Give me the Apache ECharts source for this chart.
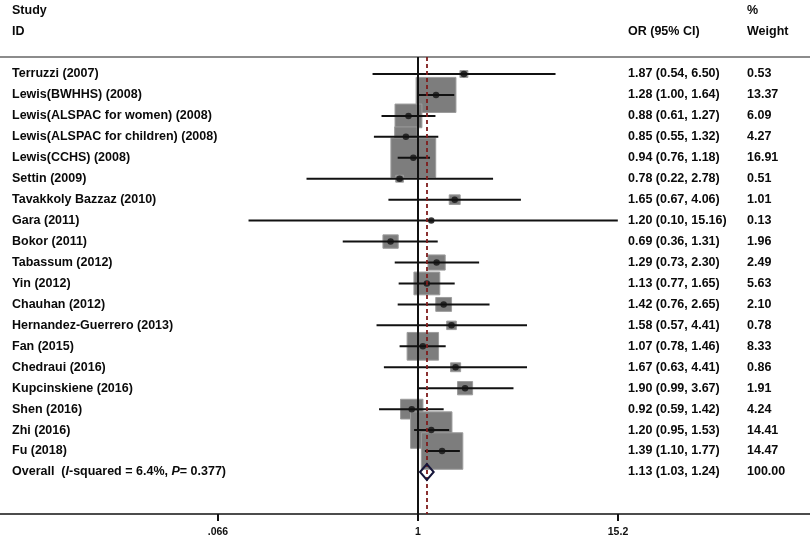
<!DOCTYPE html>
<html><head><meta charset="utf-8">
<script src="https://cdn.jsdelivr.net/npm/echarts@6/dist/echarts.min.js"></script>
<style>html,body{margin:0;padding:0;background:#fff}#c{width:810px;height:540px}</style>
</head><body><div id="c"></div>
<script>
const studies = [
  'Terruzzi (2007)', 'Lewis(BWHHS) (2008)', 'Lewis(ALSPAC for women) (2008)',
  'Lewis(ALSPAC for children) (2008)', 'Lewis(CCHS) (2008)', 'Settin (2009)',
  'Tavakkoly Bazzaz (2010)', 'Gara (2011)', 'Bokor (2011)', 'Tabassum (2012)',
  'Yin (2012)', 'Chauhan (2012)', 'Hernandez-Guerrero (2013)', 'Fan (2015)',
  'Chedraui (2016)', 'Kupcinskiene (2016)', 'Shen (2016)', 'Zhi (2016)', 'Fu (2018)'
];
const orValues = [1.87, 1.28, 0.88, 0.85, 0.94, 0.78, 1.65, 1.20, 0.69, 1.29, 1.13, 1.42, 1.58, 1.07, 1.67, 1.90, 0.92, 1.20, 1.39];
const ciLower  = [0.54, 1.00, 0.61, 0.55, 0.76, 0.22, 0.67, 0.10, 0.36, 0.73, 0.77, 0.76, 0.57, 0.78, 0.63, 0.99, 0.59, 0.95, 1.10];
const ciUpper  = [6.50, 1.64, 1.27, 1.32, 1.18, 2.78, 4.06, 15.16, 1.31, 2.30, 1.65, 2.65, 4.41, 1.46, 4.41, 3.67, 1.42, 1.53, 1.77];
const weights  = [0.53, 13.37, 6.09, 4.27, 16.91, 0.51, 1.01, 0.13, 1.96, 2.49, 5.63, 2.10, 0.78, 8.33, 0.86, 1.91, 4.24, 14.41, 14.47];
const overallOR = 1.13, overallLower = 1.03, overallUpper = 1.24, overallWeight = 100.00;
const overallLabel = ['Overall  (', 'I', '-squared = 6.4%, ', 'P', '= 0.377)'];
const tickValues = [0.066, 1, 15.2];
const tickLabels = ['.066', '1', '15.2'];
const headers = {study: 'Study', id: 'ID', or: 'OR (95% CI)', pct: '%', weight: 'Weight'};

const ln = Math.log;
const n = studies.length;
const rowIdx = studies.map((_, i) => i);
const allRows = rowIdx.concat([n]);
const orText = orValues.map((v, i) => `${v.toFixed(2)} (${ciLower[i].toFixed(2)}, ${ciUpper[i].toFixed(2)})`)
  .concat([`${overallOR.toFixed(2)} (${overallLower.toFixed(2)}, ${overallUpper.toFixed(2)})`]);
const wText = weights.map(w => w.toFixed(2)).concat([overallWeight.toFixed(2)]);

const FONT = '"Liberation Sans", Arial, sans-serif';
const FS = 12.5;
const txt = {fontFamily: FONT, fontWeight: 'bold', fontSize: FS, color: '#0a0a0a'};

const chart = echarts.init(document.getElementById('c'), null, {renderer: 'canvas'});

const yBase = {type: 'value', inverse: true, min: -0.8116, max: 21.006,
  axisLine: {show: false, onZero: false}, axisTick: {show: false}, splitLine: {show: false}};

chart.setOption({
  animation: false,
  backgroundColor: '#fff',
  grid: {left: 0, right: 0, top: 57, bottom: 26},
  xAxis: [{
    type: 'value', min: -5.682, max: 5.332, position: 'bottom',
    axisLine: {show: true, onZero: false, lineStyle: {color: '#111', width: 1.5}},
    axisTick: {show: true, length: 7, lineStyle: {color: '#111', width: 2}, customValues: tickValues.map(ln)},
    axisLabel: {show: true, margin: 13, customValues: tickValues.map(ln),
      formatter: v => { let k = 0, d = 1e9; tickValues.forEach((t, j) => { const e = Math.abs(ln(t) - v); if (e < d) { d = e; k = j; } }); return tickLabels[k]; },
      fontFamily: FONT, fontWeight: 'bold', fontSize: 10.5, color: '#111'},
    splitLine: {show: false}
  }, {
    type: 'value', min: -5.682, max: 5.332, position: 'top',
    axisLine: {show: true, onZero: false, lineStyle: {color: '#8c8c8c', width: 2}},
    axisTick: {show: false}, axisLabel: {show: false}, splitLine: {show: false}
  }],
  yAxis: [
    Object.assign({}, yBase, {position: 'left', axisLabel: Object.assign({
      show: true, inside: true, align: 'left', margin: 12, customValues: allRows,
      formatter: v => { const i = Math.round(v); if (i === n) { return `{b|${overallLabel[0]}}{i|${overallLabel[1]}}{b|${overallLabel[2]}}{i|${overallLabel[3]}}{b|${overallLabel[4]}}`; } return studies[i]; },
      rich: {
        b: {fontFamily: FONT, fontWeight: 'bold', fontSize: FS, color: '#0a0a0a'},
        i: {fontFamily: FONT, fontWeight: 'bold', fontStyle: 'italic', fontSize: FS, color: '#0a0a0a'}
      }
    }, txt)}),
    Object.assign({}, yBase, {position: 'right', axisLabel: Object.assign({
      show: true, inside: true, align: 'left', margin: 182, customValues: allRows,
      formatter: v => orText[Math.round(v)]
    }, txt)}),
    Object.assign({}, yBase, {position: 'right', axisLabel: Object.assign({
      show: true, inside: true, align: 'left', margin: 63, customValues: allRows,
      formatter: v => wText[Math.round(v)]
    }, txt)})
  ],
  graphic: [
    {type: 'text', left: 12, top: 4, style: {text: headers.study, fill: '#0a0a0a', font: `bold ${FS}px ${FONT}`}},
    {type: 'text', left: 12, top: 25, style: {text: headers.id, fill: '#0a0a0a', font: `bold ${FS}px ${FONT}`}},
    {type: 'text', left: 628, top: 25, style: {text: headers.or, fill: '#0a0a0a', font: `bold ${FS}px ${FONT}`}},
    {type: 'text', left: 747, top: 4, style: {text: headers.pct, fill: '#0a0a0a', font: `bold ${FS}px ${FONT}`}},
    {type: 'text', left: 747, top: 25, style: {text: headers.weight, fill: '#0a0a0a', font: `bold ${FS}px ${FONT}`}}
  ],
  series: [
    {
      type: 'line', data: [], z: 1, silent: true,
      markLine: {symbol: 'none', silent: true, label: {show: false}, animation: false,
        data: [
          {xAxis: ln(1), lineStyle: {color: '#111', width: 2, type: 'solid'}},
          {xAxis: ln(overallOR), lineStyle: {color: '#7f1c1c', width: 1.8, type: [4, 3]}}
        ]}
    },
    {
      type: 'custom', z: 2, silent: true,
      data: rowIdx.map(i => [ln(orValues[i]), i, weights[i]]),
      renderItem: (params, api) => {
        const c = api.coord([api.value(0), api.value(1)]);
        const s = Math.sqrt(api.value(2));
        const bw = 10.9 * s, bh = 9.6 * s;
        return {type: 'rect', shape: {x: c[0] - bw / 2, y: c[1] - bh / 2, width: bw, height: bh},
          style: {fill: '#7d7d7d', stroke: '#9c9c9c', lineWidth: 1}};
      }
    },
    {
      type: 'custom', z: 3, silent: true,
      data: rowIdx.map(i => [ln(ciLower[i]), ln(ciUpper[i]), i]),
      renderItem: (params, api) => {
        const a = api.coord([api.value(0), api.value(2)]);
        const b = api.coord([api.value(1), api.value(2)]);
        return {type: 'line', shape: {x1: a[0], y1: a[1], x2: b[0], y2: b[1]},
          style: {stroke: '#111', lineWidth: 2}};
      }
    },
    {
      type: 'scatter', z: 4, silent: true, symbol: 'circle', symbolSize: 6.5,
      itemStyle: {color: '#111'},
      data: rowIdx.map(i => [ln(orValues[i]), i])
    },
    {
      type: 'custom', z: 5, silent: true,
      data: [[ln(overallLower), ln(overallOR), ln(overallUpper), n]],
      renderItem: (params, api) => {
        const l = api.coord([api.value(0), api.value(3)]);
        const m = api.coord([api.value(1), api.value(3)]);
        const r = api.coord([api.value(2), api.value(3)]);
        const h = 8;
        return {type: 'polygon', shape: {points: [[l[0], l[1]], [m[0], m[1] - h], [r[0], r[1]], [m[0], m[1] + h]]},
          style: {fill: 'rgba(255,255,255,0)', stroke: '#15153a', lineWidth: 2}};
      }
    }
  ]
});
</script></body></html>
